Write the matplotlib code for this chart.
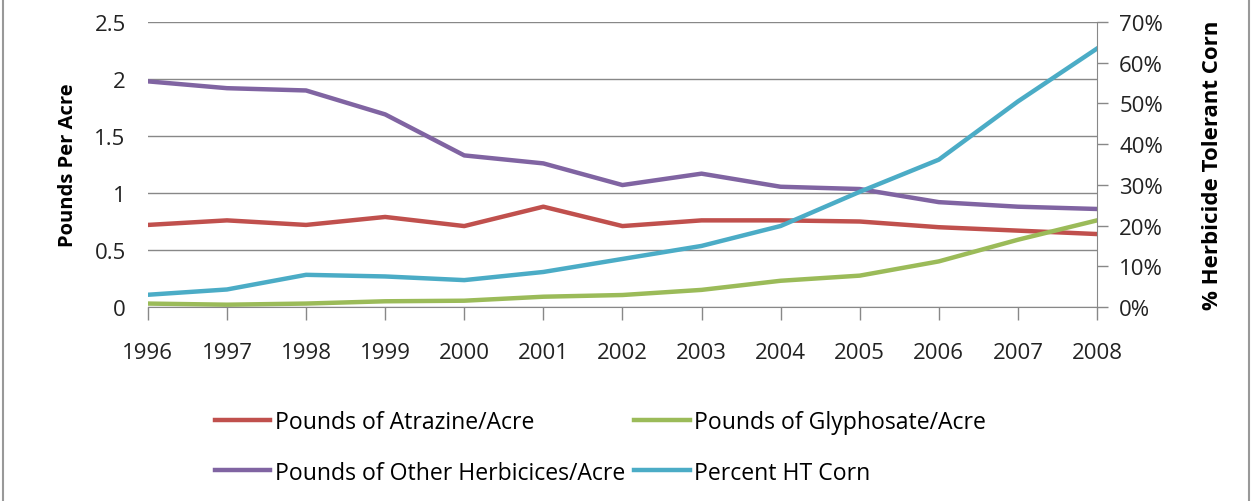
import numpy as np
import matplotlib.pyplot as plt
from matplotlib.patches import Rectangle
from matplotlib.ticker import FuncFormatter

plt.rcParams['font.family'] = ['Open Sans', 'DejaVu Sans']

years = [1996, 1997, 1998, 1999, 2000, 2001, 2002, 2003, 2004, 2005, 2006, 2007, 2008]
atrazine = [0.72, 0.76, 0.72, 0.79, 0.71, 0.88, 0.71, 0.76, 0.76, 0.75, 0.70, 0.67, 0.64]
glyphosate = [0.03, 0.02, 0.03, 0.05, 0.055, 0.09, 0.105, 0.15, 0.23, 0.275, 0.40, 0.59, 0.76]
other = [1.98, 1.92, 1.90, 1.69, 1.33, 1.26, 1.07, 1.17, 1.055, 1.035, 0.92, 0.88, 0.86]
ht_corn = [3.0, 4.3, 7.9, 7.5, 6.6, 8.6, 11.8, 15.0, 19.9, 28.3, 36.2, 50.5, 63.5]

colors = ['#C0504D', '#9BBB59', '#8064A2', '#4BACC6']
grid_col = '#888888'

fig = plt.figure(figsize=(12.53, 5.02), dpi=100)
ax = fig.add_axes([0.118, 0.3865, 0.7575, 0.5675])
ax2 = ax.twinx()

l1, = ax.plot(years, atrazine, color=colors[0], lw=3.2, label='Pounds of Atrazine/Acre')
l2, = ax.plot(years, glyphosate, color=colors[1], lw=3.2, label='Pounds of Glyphosate/Acre')
l3, = ax.plot(years, other, color=colors[2], lw=3.2, label='Pounds of Other Herbicices/Acre')
l4, = ax2.plot(years, ht_corn, color=colors[3], lw=3.2, label='Percent HT Corn')

ax.set_xlim(1996, 2008)
ax.set_ylim(0, 2.5)
ax.set_yticks(np.arange(0, 2.51, 0.5))
ax.set_yticklabels(['0', '0.5', '1', '1.5', '2', '2.5'])
ax.set_xticks(years)
ax.grid(axis='y', color=grid_col, lw=1)
ax.set_axisbelow(True)
ax.tick_params(axis='y', length=0, pad=16, labelsize=16, colors='#222222')
ax.tick_params(axis='x', length=9, width=1, color=grid_col, pad=16, labelsize=16, labelcolor='#222222')
ax.set_ylabel('Pounds Per Acre', fontsize=14.5, fontweight='bold', labelpad=12)

ax2.set_ylim(0, 70)
ax2.set_yticks(np.arange(0, 71, 10))
ax2.yaxis.set_major_formatter(FuncFormatter(lambda v, p: f'{v:.0f}%'))
ax2.tick_params(axis='y', length=8, width=1, color=grid_col, pad=8, labelsize=16, labelcolor='#222222')
ax2.set_ylabel('% Herbicide Tolerant Corn', fontsize=16, fontweight='bold', labelpad=28)

for a in (ax, ax2):
    for s in ('top', 'left'):
        a.spines[s].set_visible(False)
    a.spines['bottom'].set_color(grid_col)
    a.spines['right'].set_color(grid_col)
ax.spines['right'].set_visible(False)
ax2.spines['bottom'].set_visible(False)

# legend filled row by row: Atrazine, Glyphosate / Other, HT corn
fig.legend(handles=[l1, l3, l2, l4], ncol=2, loc='upper left',
           bbox_to_anchor=(215 / 1253, 1 - 411 / 502), frameon=False, fontsize=16.6,
           borderpad=0, borderaxespad=0, handlelength=2.4, handletextpad=0.2,
           columnspacing=0.4, labelspacing=1.15)

fig.add_artist(Rectangle((0.002, -0.01), 0.995, 1.02, transform=fig.transFigure,
                         fill=False, edgecolor='#999999', lw=1.5))

fig.savefig('out.png', dpi=100)
